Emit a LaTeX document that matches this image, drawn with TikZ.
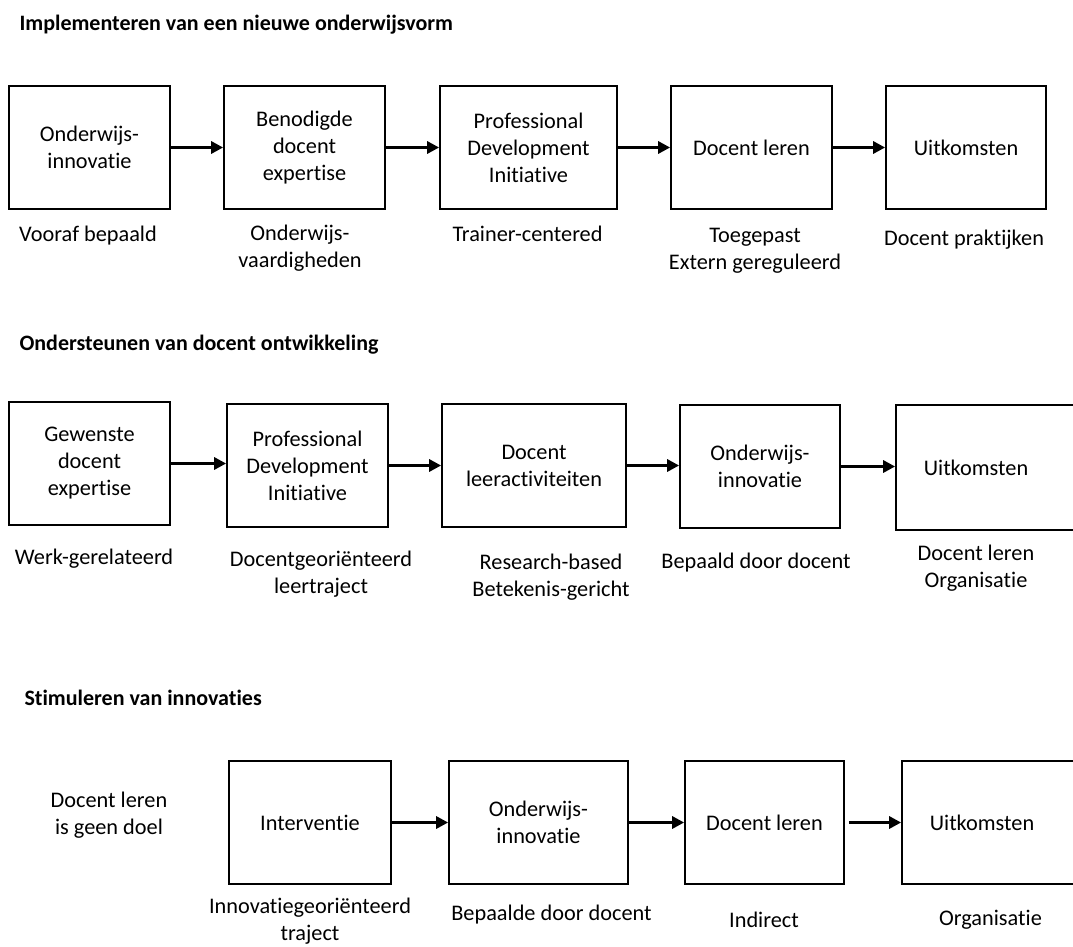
\documentclass[tikz,border=0pt]{standalone}
\usepackage{fontspec}
\setmainfont{Carlito}[Ligatures=NoCommon]
\usetikzlibrary{positioning, arrows.meta}

\begin{document}
\begin{tikzpicture}[x=1pt, y=-1pt,
        every node/.style={font=\fontsize{22.3}{27}\selectfont, align=center},
        box/.style={draw, line width=1.7pt, minimum height=123pt, inner sep=0pt},
        title/.style={anchor=west, font=\bfseries\fontsize{22}{26}\selectfont},
        flow/.style={line width=3pt, -{Triangle[length=12pt, width=12pt]}}]
        \useasboundingbox (0,0) rectangle (1073,947);
        \clip (0,0) rectangle (1073,947);

        % Row 1
        \node[title] (T1) at (16,25) {Implementeren van een nieuwe onderwijsvorm};
        \node[box, minimum width=161pt] (R1B1) at (89.5,147.5) {Onderwijs-\\innovatie};
        \node[box, minimum width=161pt] (R1B2) at (304.5,147.5) {Benodigde\\docent\\expertise};
        \node[box, minimum width=177pt] (R1B3) at (528.5,147.5) {Professional\\Development\\Initiative};
        \node[box, minimum width=161pt] (R1B4) at (751.5,147.5) {Docent leren};
        \node[box, minimum width=160pt] (R1B5) at (966,147.5) {Uitkomsten};

        \node (R1L1) at (88,236) {Vooraf bepaald};
        \node (R1L2) at (300,248.5) {Onderwijs-\\vaardigheden};
        \node (R1L3) at (527.5,234) {Trainer-centered};
        \node (R1L4) at (755,251) {Toegepast\\Extern gereguleerd};
        \node (R1L5) at (964,240) {Docent praktijken};

        \draw[flow] (R1B1.east) -- (R1B2.west |- R1B1.east);
        \draw[flow] (R1B2.east) -- (R1B3.west |- R1B2.east);
        \draw[flow] (R1B3.east) -- (R1B4.west |- R1B3.east);
        \draw[flow] (R1B4.east) -- (R1B5.west |- R1B4.east);

        % Row 2
        \node[title] (T2) at (16,345) {Ondersteunen van docent ontwikkeling};
        \node[box, minimum width=161pt] (R2B1) at (89.5,463.5) {Gewenste\\docent\\expertise};
        \node[box, minimum width=161pt] (R2B2) at (307.5,465.5) {Professional\\Development\\Initiative};
        \node[box, minimum width=184pt] (R2B3) at (534,465.5) {Docent\\leeractiviteiten};
        \node[box, minimum width=160pt] (R2B4) at (760,466.5) {Onderwijs-\\innovatie};
        \node[box, minimum width=190pt, minimum height=125pt] (R2B5) at (991,467.5) {};
        \node (R2T5) at (976,467.5) {Uitkomsten};

        \node (R2L1) at (94,559) {Werk-gerelateerd};
        \node (R2L2) at (321,574.5) {Docentgeoriënteerd\\leertraject};
        \node (R2L3) at (551,577) {Research-based\\Betekenis-gericht};
        \node (R2L4) at (756,563) {Bepaald door docent};
        \node (R2L5) at (976,568.5) {Docent leren\\Organisatie};

        \draw[flow] (R2B1.east) -- (R2B2.west |- R2B1.east);
        \draw[flow] (R2B2.east) -- (R2B3.west |- R2B2.east);
        \draw[flow] (R2B3.east) -- (R2B4.west |- R2B3.east);
        \draw[flow] (R2B4.east) -- (R2B5.west |- R2B4.east);

        % Row 3
        \node[title] (T3) at (21,698) {Stimuleren van innovaties};
        \node (R3L0) at (109,815) {Docent leren\\is geen doel};
        \node[box, minimum width=162pt] (R3B1) at (310,822.5) {Interventie};
        \node[box, minimum width=179pt] (R3B2) at (538.5,822.5) {Onderwijs-\\innovatie};
        \node[box, minimum width=159pt] (R3B3) at (764.5,822.5) {Docent leren};
        \node[box, minimum width=190pt] (R3B4) at (997,822.5) {};
        \node (R3T4) at (982,822.5) {Uitkomsten};

        \node (R3L1) at (310,921) {Innovatiegeoriënteerd\\traject};
        \node (R3L2) at (551.5,915) {Bepaalde door docent};
        \node (R3L3) at (764,920) {Indirect};
        \node (R3L4) at (990.5,920) {Organisatie};

        \draw[flow] (R3B1.east) -- (R3B2.west |- R3B1.east);
        \draw[flow] (R3B2.east) -- (R3B3.west |- R3B2.east);
        \draw[flow, shorten <=4pt] (R3B3.east) -- (R3B4.west |- R3B3.east);
    \end{tikzpicture}
\end{document}
